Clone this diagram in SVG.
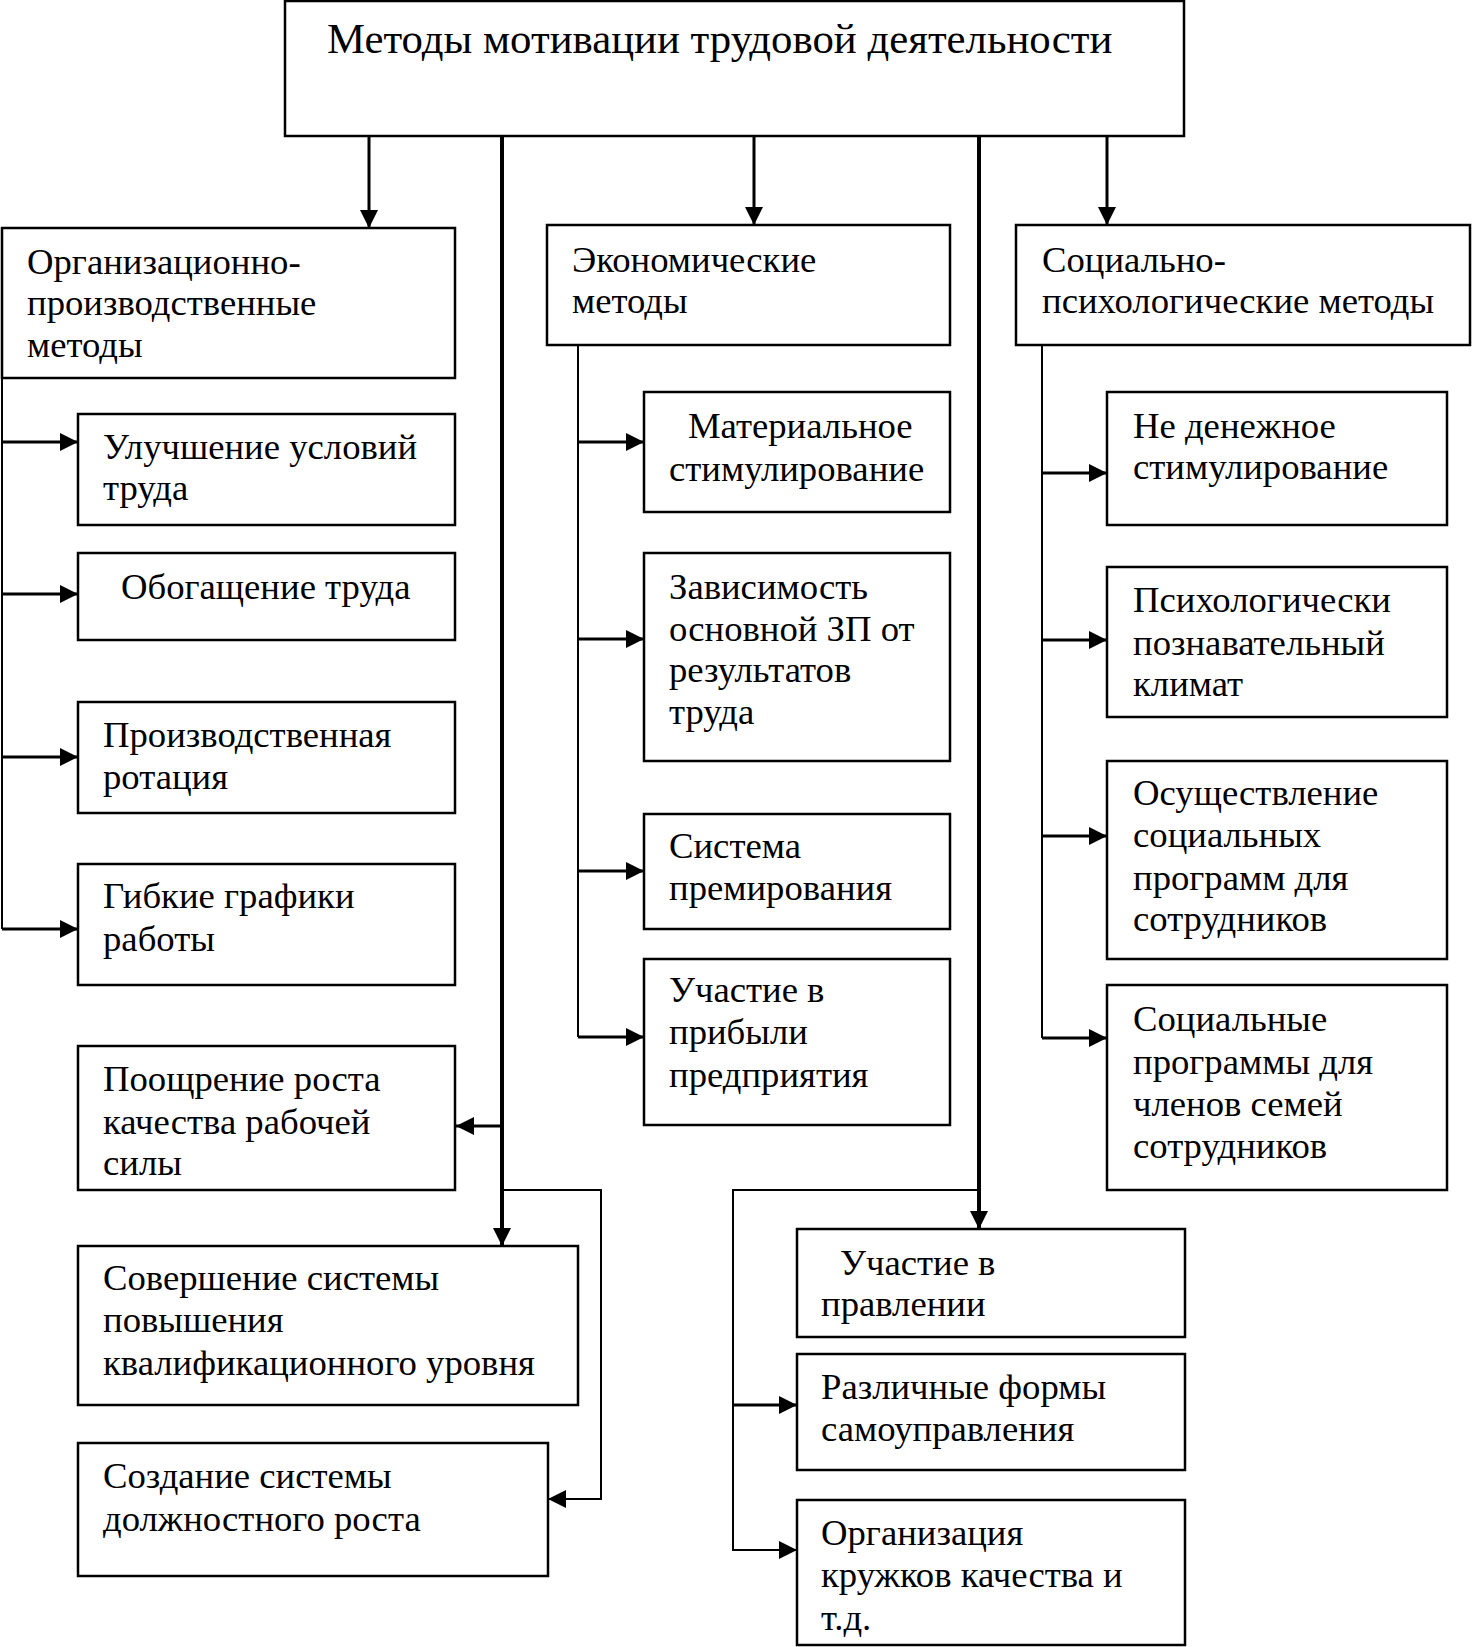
<svg xmlns="http://www.w3.org/2000/svg" width="1472" height="1647" viewBox="0 0 1472 1647">
<style>
.box{fill:#fff;stroke:#000;stroke-width:2.5}
.t{font-family:"Liberation Serif","Times New Roman",serif;font-size:36.7px;fill:#000}
.title{font-size:42.8px}
.trunk{fill:none;stroke:#000;stroke-width:4}
.arr{fill:none;stroke:#000;stroke-width:3}
.thin{fill:none;stroke:#000;stroke-width:2}
</style>
<defs>
<marker id="ah" markerUnits="userSpaceOnUse" markerWidth="18" markerHeight="18" refX="18" refY="9" orient="auto" viewBox="0 0 18 18">
<path d="M0,0 L18,9 L0,18 z" fill="#000"/>
</marker>
</defs>
<rect width="1472" height="1647" fill="#fff"/>

<g id="connectors">
<line class="arr" x1="369" y1="136" x2="369" y2="228" marker-end="url(#ah)"/>
<line class="arr" x1="754" y1="136" x2="754" y2="225" marker-end="url(#ah)"/>
<line class="arr" x1="1107" y1="136" x2="1107" y2="225" marker-end="url(#ah)"/>
<line class="trunk" x1="502" y1="136" x2="502" y2="1246" marker-end="url(#ah)"/>
<line class="arr" x1="502" y1="1126" x2="456" y2="1126" marker-end="url(#ah)"/>
<path class="thin" d="M502,1190 H601 V1499 H548" marker-end="url(#ah)"/>
<line class="trunk" x1="979" y1="136" x2="979" y2="1229" marker-end="url(#ah)"/>
<path class="thin" d="M979,1190 H733 V1550 H797" marker-end="url(#ah)"/>
<line class="arr" x1="733" y1="1405" x2="797" y2="1405" marker-end="url(#ah)"/>
<line class="thin" x1="2" y1="378" x2="2" y2="929"/>
<line class="arr" x1="2" y1="442" x2="78" y2="442" marker-end="url(#ah)"/>
<line class="arr" x1="2" y1="594" x2="78" y2="594" marker-end="url(#ah)"/>
<line class="arr" x1="2" y1="757" x2="78" y2="757" marker-end="url(#ah)"/>
<line class="arr" x1="2" y1="929" x2="78" y2="929" marker-end="url(#ah)"/>
<line class="thin" x1="578" y1="345" x2="578" y2="1037"/>
<line class="arr" x1="578" y1="442" x2="644" y2="442" marker-end="url(#ah)"/>
<line class="arr" x1="578" y1="639" x2="644" y2="639" marker-end="url(#ah)"/>
<line class="arr" x1="578" y1="871" x2="644" y2="871" marker-end="url(#ah)"/>
<line class="arr" x1="578" y1="1037" x2="644" y2="1037" marker-end="url(#ah)"/>
<line class="thin" x1="1042" y1="345" x2="1042" y2="1038"/>
<line class="arr" x1="1042" y1="473" x2="1107" y2="473" marker-end="url(#ah)"/>
<line class="arr" x1="1042" y1="640" x2="1107" y2="640" marker-end="url(#ah)"/>
<line class="arr" x1="1042" y1="836" x2="1107" y2="836" marker-end="url(#ah)"/>
<line class="arr" x1="1042" y1="1038" x2="1107" y2="1038" marker-end="url(#ah)"/>
</g>

<g id="n-title">
<rect class="box" x="285" y="1" width="899" height="135"/>
<text class="t title" x="327" y="53">Методы мотивации трудовой деятельности</text>
</g>

<g id="n-org">
<rect class="box" x="2" y="228" width="453" height="150"/>
<text class="t"><tspan x="27" y="274">Организационно-</tspan><tspan x="27" y="315">производственные</tspan><tspan x="27" y="357">методы</tspan></text>
</g>
<g id="n-econ">
<rect class="box" x="547" y="225" width="403" height="120"/>
<text class="t"><tspan x="572" y="272">Экономические</tspan><tspan x="572" y="313">методы</tspan></text>
</g>
<g id="n-soc">
<rect class="box" x="1016" y="225" width="454" height="120"/>
<text class="t"><tspan x="1042" y="272">Социально-</tspan><tspan x="1042" y="313">психологические методы</tspan></text>
</g>

<g id="n-o1">
<rect class="box" x="78" y="414" width="377" height="111"/>
<text class="t"><tspan x="103" y="459">Улучшение условий</tspan><tspan x="103" y="500">труда</tspan></text>
</g>
<g id="n-o2">
<rect class="box" x="78" y="553" width="377" height="87"/>
<text class="t"><tspan x="121" y="599">Обогащение труда</tspan></text>
</g>
<g id="n-o3">
<rect class="box" x="78" y="702" width="377" height="111"/>
<text class="t"><tspan x="103" y="747">Производственная</tspan><tspan x="103" y="789">ротация</tspan></text>
</g>
<g id="n-o4">
<rect class="box" x="78" y="864" width="377" height="121"/>
<text class="t"><tspan x="103" y="908">Гибкие графики</tspan><tspan x="103" y="951">работы</tspan></text>
</g>
<g id="n-o5">
<rect class="box" x="78" y="1046" width="377" height="144"/>
<text class="t"><tspan x="103" y="1091">Поощрение роста</tspan><tspan x="103" y="1134">качества рабочей</tspan><tspan x="103" y="1175">силы</tspan></text>
</g>
<g id="n-o6">
<rect class="box" x="78" y="1246" width="500" height="159"/>
<text class="t"><tspan x="103" y="1290">Совершение системы</tspan><tspan x="103" y="1332">повышения</tspan><tspan x="103" y="1375">квалификационного уровня</tspan></text>
</g>
<g id="n-o7">
<rect class="box" x="78" y="1443" width="470" height="133"/>
<text class="t"><tspan x="103" y="1488">Создание системы</tspan><tspan x="103" y="1531">должностного роста</tspan></text>
</g>

<g id="n-e1">
<rect class="box" x="644" y="392" width="306" height="120"/>
<text class="t"><tspan x="688" y="438">Материальное</tspan><tspan x="669" y="481">стимулирование</tspan></text>
</g>
<g id="n-e2">
<rect class="box" x="644" y="553" width="306" height="208"/>
<text class="t"><tspan x="669" y="599">Зависимость</tspan><tspan x="669" y="641">основной ЗП от</tspan><tspan x="669" y="682">результатов</tspan><tspan x="669" y="724">труда</tspan></text>
</g>
<g id="n-e3">
<rect class="box" x="644" y="814" width="306" height="115"/>
<text class="t"><tspan x="669" y="858">Система</tspan><tspan x="669" y="900">премирования</tspan></text>
</g>
<g id="n-e4">
<rect class="box" x="644" y="959" width="306" height="166"/>
<text class="t"><tspan x="669" y="1002">Участие в</tspan><tspan x="669" y="1044">прибыли</tspan><tspan x="669" y="1087">предприятия</tspan></text>
</g>

<g id="n-s1">
<rect class="box" x="1107" y="392" width="340" height="133"/>
<text class="t"><tspan x="1133" y="438">Не денежное</tspan><tspan x="1133" y="479">стимулирование</tspan></text>
</g>
<g id="n-s2">
<rect class="box" x="1107" y="567" width="340" height="150"/>
<text class="t"><tspan x="1133" y="612">Психологически</tspan><tspan x="1133" y="655">познавательный</tspan><tspan x="1133" y="696">климат</tspan></text>
</g>
<g id="n-s3">
<rect class="box" x="1107" y="761" width="340" height="198"/>
<text class="t"><tspan x="1133" y="805">Осуществление</tspan><tspan x="1133" y="847">социальных</tspan><tspan x="1133" y="890">программ для</tspan><tspan x="1133" y="931">сотрудников</tspan></text>
</g>
<g id="n-s4">
<rect class="box" x="1107" y="985" width="340" height="205"/>
<text class="t"><tspan x="1133" y="1031">Социальные</tspan><tspan x="1133" y="1074">программы для</tspan><tspan x="1133" y="1116">членов семей</tspan><tspan x="1133" y="1158">сотрудников</tspan></text>
</g>

<g id="n-b1">
<rect class="box" x="797" y="1229" width="388" height="108"/>
<text class="t"><tspan x="840" y="1275">Участие в</tspan><tspan x="821" y="1316">правлении</tspan></text>
</g>
<g id="n-b2">
<rect class="box" x="797" y="1354" width="388" height="116"/>
<text class="t"><tspan x="821" y="1399">Различные формы</tspan><tspan x="821" y="1441">самоуправления</tspan></text>
</g>
<g id="n-b3">
<rect class="box" x="797" y="1500" width="388" height="145"/>
<text class="t"><tspan x="821" y="1545">Организация</tspan><tspan x="821" y="1587">кружков качества и</tspan><tspan x="821" y="1630">т.д.</tspan></text>
</g>
</svg>
